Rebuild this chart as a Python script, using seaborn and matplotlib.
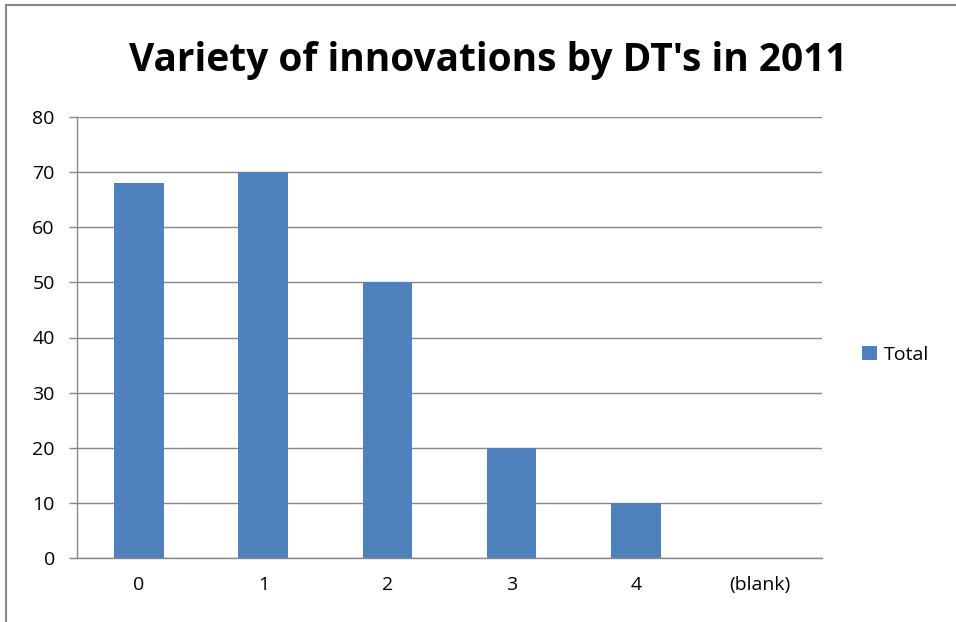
import matplotlib
matplotlib.use("Agg")
import matplotlib.pyplot as plt
import seaborn as sns
import pandas as pd
from matplotlib.patches import Rectangle

categories = ["0", "1", "2", "3", "4", "(blank)"]
totals = [68, 70, 50, 20, 10, 0]
y_ticks = [0, 10, 20, 30, 40, 50, 60, 70, 80]
title = "Variety of innovations by DT's in 2011"
series_name = "Total"

sns.set_style("white")
plt.rcParams['font.family'] = ['Open Sans', 'DejaVu Sans']
plt.rcParams['text.color'] = 'black'
plt.rcParams['xtick.color'] = 'black'
plt.rcParams['ytick.color'] = 'black'

df = pd.DataFrame({"cat": categories, "val": totals})

fig = plt.figure(figsize=(9.56, 6.22), dpi=100)
ax = fig.add_axes([77/956, (622-558)/622, (822-77)/956, (558-117)/622])

bar_color = "#4F81BD"
sns.barplot(data=df, x="cat", y="val", color=bar_color, width=0.40,
            saturation=1, ax=ax, label=series_name, order=categories,
            linewidth=0)

ax.set_xlim(-0.5, len(categories) - 0.5)
ax.set_ylim(0, 80)
ax.set_yticks(y_ticks)
ax.set_yticklabels([str(v) for v in y_ticks], fontsize=14, color='black')
ax.set_xticks(range(len(categories)))
ax.set_xticklabels(categories, fontsize=14, color='black')
ax.tick_params(axis='x', which='major', length=0, pad=13)
ax.set_xticks([i - 0.5 for i in range(len(categories) + 1)], minor=True)
ax.tick_params(axis='x', which='minor', length=6, color="#888888", width=1, direction='out')
ax.tick_params(axis='y', length=6, color="#888888", width=1, direction='out', pad=10, left=True)
ax.set_xlabel("")
ax.set_ylabel("")

ax.grid(axis='y', color="#888888", linewidth=1)
ax.set_axisbelow(True)
for s in ["top", "right"]:
    ax.spines[s].set_visible(False)
ax.spines["left"].set_color("#888888")
ax.spines["bottom"].set_color("#888888")
ax.spines["left"].set_linewidth(1)
ax.spines["bottom"].set_linewidth(1)

leg = ax.legend(loc='center left', bbox_to_anchor=(862/956, 1 - 355/622),
                bbox_transform=fig.transFigure, frameon=False, fontsize=14,
                handlelength=0.75, handleheight=0.75, handletextpad=0.4,
                borderaxespad=0, borderpad=0)
for t in leg.get_texts():
    t.set_color('black')

fig.text(488/956, 1 - 60/622, title, ha='center', va='center', color='black',
         fontsize=28, fontweight='bold', family=['Open Sans', 'DejaVu Sans'])

# chart border
fig.patches.append(Rectangle((6/956, -0.01), 1.02, 1 - 5/622 + 0.01,
                             transform=fig.transFigure, fill=False,
                             edgecolor="#888888", linewidth=1.5))

fig.savefig("out.png", dpi=100)
